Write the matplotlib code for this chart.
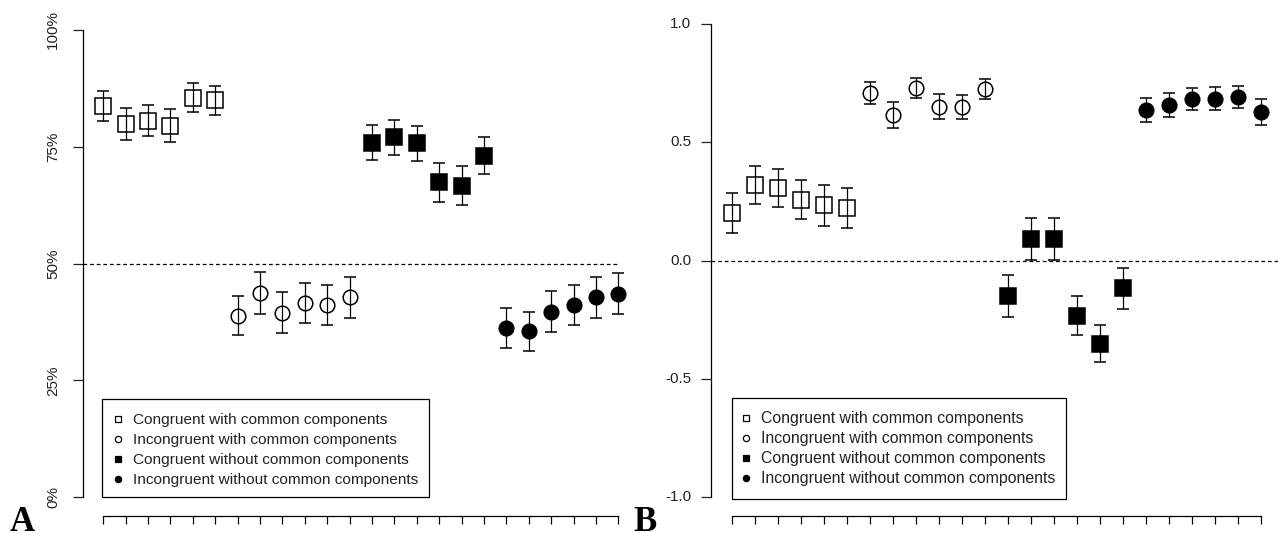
import numpy as np
import matplotlib
matplotlib.use("Agg")
import matplotlib.pyplot as plt
from matplotlib.lines import Line2D
from matplotlib.patches import Rectangle

plt.rcParams['font.family'] = ['Liberation Sans', 'DejaVu Sans']

# ---------------- data ----------------
positions = list(range(1, 25))
series_labels = ["Congruent with common components",
                 "Incongruent with common components",
                 "Congruent without common components",
                 "Incongruent without common components"]

# Panel A: percentages (as fractions), 6 points per series
a_mean = [0.838, 0.799, 0.806, 0.795, 0.855, 0.850,
          0.388, 0.437, 0.395, 0.415, 0.411, 0.428,
          0.759, 0.770, 0.757, 0.674, 0.667, 0.731,
          0.362, 0.355, 0.397, 0.412, 0.428, 0.435]
a_err = [0.032, 0.035, 0.034, 0.035, 0.031, 0.031,
         0.042, 0.045, 0.043, 0.043, 0.043, 0.044,
         0.038, 0.037, 0.038, 0.042, 0.042, 0.039,
         0.042, 0.042, 0.044, 0.043, 0.044, 0.044]

# Panel B
b_mean = [0.201, 0.318, 0.306, 0.257, 0.233, 0.221,
          0.708, 0.615, 0.730, 0.651, 0.651, 0.724,
          -0.149, 0.091, 0.091, -0.233, -0.351, -0.118,
          0.636, 0.658, 0.682, 0.685, 0.690, 0.628]
b_err = [0.085, 0.080, 0.080, 0.082, 0.085, 0.085,
         0.045, 0.055, 0.043, 0.053, 0.051, 0.042,
         0.088, 0.089, 0.089, 0.083, 0.077, 0.086,
         0.052, 0.050, 0.047, 0.047, 0.047, 0.055]

a_ticks = [0, 0.25, 0.5, 0.75, 1.0]
a_ticklabels = ["0%", "25%", "50%", "75%", "100%"]
b_ticks = [-1.0, -0.5, 0.0, 0.5, 1.0]
b_ticklabels = ["-1.0", "-0.5", "0.0", "0.5", "1.0"]

# ---------------- style ----------------
styles = [dict(marker='s', mfc='none', ms=11.3),
          dict(marker='o', mfc='none', ms=10.5),
          dict(marker='s', mfc='black', ms=11.3),
          dict(marker='o', mfc='black', ms=10.5)]

W, H = 1278, 533
fig = plt.figure(figsize=(W / 100, H / 100), dpi=100)


def px_axes(left, right, top, bottom):
    return fig.add_axes([left / W, 1 - bottom / H, (right - left) / W, (bottom - top) / H])


axA = px_axes(82.5, 639.0, 11.3, 515.7)
axB = px_axes(710.8, 1282.2, 5.1, 516.0)


def draw(ax, mean, err, ylim, ticks, ticklabels, rot, pad):
    for g in range(4):
        sl = slice(6 * g, 6 * g + 6)
        st = styles[g]
        ax.errorbar(positions[sl], mean[sl], yerr=err[sl], fmt=st['marker'],
                    ms=st['ms'], mfc=st['mfc'], mec='black', mew=1.1,
                    ecolor='black', elinewidth=0.9, capsize=4, capthick=0.9,
                    zorder=3)
    ax.set_xlim(0.08, 24.92)
    ax.set_ylim(*ylim)
    for s in ['top', 'right']:
        ax.spines[s].set_visible(False)
    ax.spines['left'].set_bounds(ticks[0], ticks[-1])
    ax.spines['bottom'].set_bounds(1, 24)
    for s in ['left', 'bottom']:
        ax.spines[s].set_linewidth(0.9)
    ax.set_xticks(positions)
    ax.set_xticklabels([])
    ax.set_yticks(ticks)
    ax.set_yticklabels(ticklabels, rotation=rot, va='center')
    ax.tick_params(axis='y', length=7, width=0.9, labelsize=11, pad=pad, colors='#222222')
    ax.tick_params(axis='x', length=6, width=0.9)
    ax.set_facecolor('none')


draw(axA, a_mean, a_err, (-0.04, 1.04), a_ticks, a_ticklabels, 90, 9)
draw(axB, b_mean, b_err, (-1.08, 1.08), b_ticks, b_ticklabels, 0, 7)

axA.hlines(0.5, 0.08, 24, colors='black', linestyles=(0, (3, 2.3)), linewidth=0.9, zorder=1)
axB.axhline(0.0, color='black', linestyle=(0, (3, 2.3)), linewidth=0.9, zorder=1)


# legends drawn as a framed key in figure pixel coordinates
def fx(x):
    return x / W


def fy(y):
    return 1 - y / H


def add_key(left, top, right, bottom, marker_x, text_x, fontsize):
    fig.add_artist(Rectangle((fx(left), fy(bottom)), fx(right) - fx(left), fy(top) - fy(bottom),
                             transform=fig.transFigure, facecolor='white', edgecolor='black',
                             linewidth=0.9, zorder=5))
    for i, (st, lab) in enumerate(zip(styles, series_labels)):
        y = top + 20 + 20 * i
        fig.add_artist(Line2D([fx(marker_x)], [fy(y)], transform=fig.transFigure,
                              linestyle='none', marker=st['marker'], mfc=st['mfc'],
                              mec='black', mew=0.9,
                              ms=5 if st['marker'] == 's' else 4.5, zorder=6))
        fig.text(fx(text_x), fy(y + 1), lab, fontsize=fontsize, color='#222222',
                 ha='left', va='center', zorder=6)


add_key(102, 399, 429, 497, 118, 133, 11.1)
add_key(732, 398, 1066, 499, 746, 761, 11.4)

fig.text(10 / W, 1 - 531 / H, "A", family=['Liberation Serif', 'DejaVu Serif'],
         fontweight='bold', fontsize=25, ha='left', va='baseline')
fig.text(633 / W, 1 - 531 / H, "B", family=['Liberation Serif', 'DejaVu Serif'],
         fontweight='bold', fontsize=25, ha='left', va='baseline')

fig.savefig("out.png", dpi=100, facecolor='white')
